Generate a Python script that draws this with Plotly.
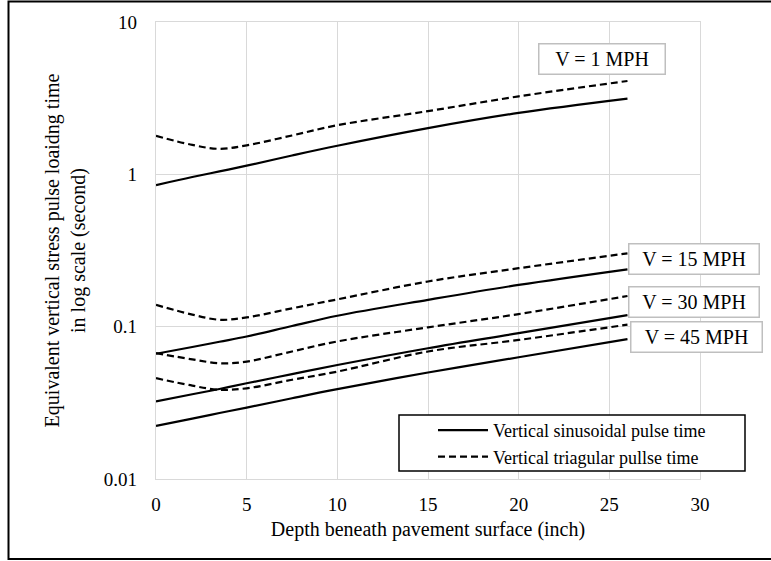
import plotly.graph_objects as go

depth = [0, 2, 3.5, 5, 7.5, 10, 15, 20, 26]

sin_1 = [0.85, 0.96, 1.045, 1.14, 1.33, 1.54, 2.01, 2.53, 3.14]
tri_1 = [1.79, 1.56, 1.47, 1.55, 1.8, 2.1, 2.6, 3.25, 4.1]
sin_15 = [0.0664, 0.0735, 0.0796, 0.0862, 0.101, 0.118, 0.150, 0.188, 0.238]
tri_15 = [0.139, 0.12, 0.111, 0.115, 0.132, 0.151, 0.198, 0.242, 0.303]
sin_30 = [0.0323, 0.036, 0.039, 0.0425, 0.0488, 0.056, 0.0722, 0.0906, 0.119]
tri_30 = [0.067, 0.061, 0.0575, 0.059, 0.0687, 0.080, 0.099, 0.121, 0.159]
sin_45 = [0.0223, 0.0249, 0.0271, 0.0294, 0.0339, 0.0389, 0.050, 0.063, 0.0828]
tri_45 = [0.0459, 0.041, 0.0385, 0.0394, 0.0448, 0.0507, 0.0687, 0.0818, 0.103]

speed_labels = ["V = 1 MPH", "V = 15 MPH", "V = 30 MPH", "V = 45 MPH"]
y_tickvals = [0.01, 0.1, 1, 10]
y_ticktext = ["0.01", "0.1", "1", "10"]
x_tickvals = [0, 5, 10, 15, 20, 25, 30]

legend_sin = "Vertical sinusoidal pulse time"
legend_tri = "Vertical triagular pullse time"

FONT = "'Liberation Serif', 'Times New Roman', 'DejaVu Serif', serif"

fig = go.Figure()
sin_series = [sin_1, sin_15, sin_30, sin_45]
tri_series = [tri_1, tri_15, tri_30, tri_45]
for i, (s, t) in enumerate(zip(sin_series, tri_series)):
    fig.add_trace(go.Scatter(
        x=depth, y=s, mode="lines", line=dict(color="black", width=2.2, shape="spline"),
        name=legend_sin, showlegend=(i == 0), legendgroup="sin", legendrank=1,
    ))
    fig.add_trace(go.Scatter(
        x=depth, y=t, mode="lines",
        line=dict(color="black", width=2.2, dash="7px,4px", shape="spline"),
        name=legend_tri, showlegend=(i == 0), legendgroup="tri", legendrank=2,
    ))

L, R, T, B = 156, 71, 22, 82
W, H = 771, 561
pw, ph = W - L - R, H - T - B

def px(x):
    return (x - L) / pw

def py(y):
    return (H - B - y) / ph

# outer frame
fig.add_shape(type="rect", xref="paper", yref="paper",
              x0=px(8.5), x1=px(774), y0=py(559), y1=py(1.5),
              line=dict(color="black", width=2), layer="below")
# legend box
fig.add_shape(type="rect", xref="paper", yref="paper",
              x0=px(399), x1=px(745), y0=py(471), y1=py(415),
              line=dict(color="black", width=1.5), fillcolor="white", layer="above")

label_pos = [(601.5, 58.5), (693.5, 258.5), (693.5, 301.5), (696, 337)]
label_w = [125, 129, 129, 130]
for lab, (cx, cy), w in zip(speed_labels, label_pos, label_w):
    fig.add_annotation(
        text=lab, xref="paper", yref="paper", x=px(cx), y=py(cy),
        xanchor="center", yanchor="middle", showarrow=False,
        font=dict(family=FONT, size=20, color="black"),
        bgcolor="white", bordercolor="#bfbfbf", borderwidth=1.5, borderpad=0,
        width=w, height=29,
    )

fig.update_layout(
    width=W, height=H,
    margin=dict(l=L, r=R, t=T, b=B),
    paper_bgcolor="white", plot_bgcolor="white",
    font=dict(family=FONT, size=18, color="black"),
    showlegend=True,
    legend=dict(x=px(433), y=py(412), xanchor="left", yanchor="top",
                bgcolor="rgba(0,0,0,0)", borderwidth=0, tracegroupgap=0,
                itemwidth=50,
                font=dict(family=FONT, size=18, color="black")),
    xaxis=dict(range=[0, 30], tickvals=x_tickvals, showgrid=True,
               gridcolor="#d9d9d9", gridwidth=1.3, zeroline=False,
               showline=True, mirror=True, linecolor="#d9d9d9", linewidth=1.3,
               ticks="", ticklabelstandoff=8,
               tickfont=dict(family=FONT, size=19),
               title=dict(text="Depth beneath pavement surface (inch)", standoff=8,
                          font=dict(family=FONT, size=20))),
    yaxis=dict(type="log", range=[-2, 1], tickvals=y_tickvals, ticktext=y_ticktext,
               showgrid=True, gridcolor="#d9d9d9", gridwidth=1.3, zeroline=False,
               showline=True, mirror=True, linecolor="#d9d9d9", linewidth=1.3,
               ticks="", ticklabelstandoff=14,
               tickfont=dict(family=FONT, size=19),
               title=dict(text="Equivalent vertical stress pulse loaidng time<br>in log scale (second)",
                          standoff=12, font=dict(family=FONT, size=20))),
)

fig.write_html("out.html")
